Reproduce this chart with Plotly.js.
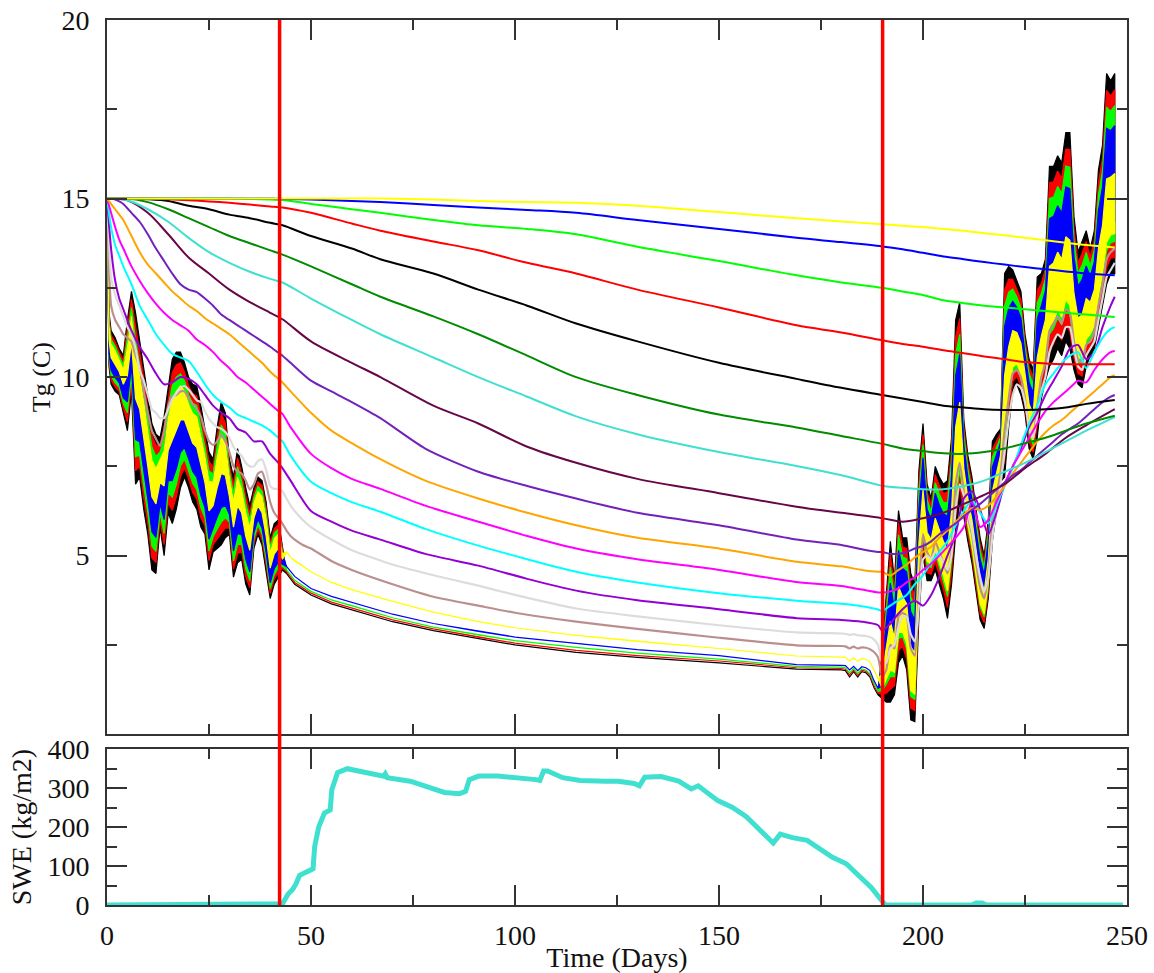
<!DOCTYPE html>
<html><head><meta charset="utf-8">
<script src="https://cdn.plot.ly/plotly-3.0.1.min.js"></script>
<style>html,body{margin:0;padding:0;background:#fff}#chart{width:1154px;height:973px}</style>
</head><body><div id="chart"></div>
<script>
// ---------- time axes ----------
const tA = [0,0.5,1,2,3,4,5,6,7,8,9,10,11,12,13,14,15,16,17,18,19,20,21,22,23,24,25,26,27,28,29,30,31,32,33,34,35,36,37,38,39,40,41,42,43];
const tSnow = [44,45,46,48,50,55,60,70,80,91,100,115,130,150,169,180,181,182,183,184,185,186,187,188,189];
const tB = [190,191,192,193,194,195,196,197,198,199,200,201,202,203,204,205,206,207,208,209,210,211,212,213,214,215,216,217,218,219,220,221,222,223,224,225,226,227,228,229,230,231,232,233,234,235,236,237,238,239,240,241,242,243,244,245,246,247];

// ---------- shallow layers (daily max / min envelopes) ----------
const blackHiA = [15,11.8,11.3,11.1,10.8,10.6,11.6,12.4,11.8,11.0,10.3,9.4,8.7,8.4,8.3,8.9,9.7,10.5,10.7,10.7,10.4,10.0,9.8,9.75,9.2,8.5,7.9,7.7,8.6,9.3,9.0,7.7,7.2,8.0,7.5,6.9,6.4,6.9,7.2,7.1,6.5,5.5,5.9,6.0,5.2];
const blackLoA = [15,10.3,9.8,9.6,9.5,9.0,8.5,9.6,7.0,7.2,6.3,5.6,4.6,4.5,5.8,5.0,6.2,5.9,6.3,6.9,7.2,6.9,6.5,6.3,5.8,5.6,4.6,5.1,5.2,5.3,5.5,5.6,4.4,4.8,4.9,4.2,3.9,5.2,5.6,5.3,4.6,3.8,4.2,4.4,4.6];
const blackSnow = [4.5,4.35,4.2,4.05,3.9,3.65,3.48,3.15,2.9,2.68,2.5,2.29,2.15,2.0,1.82,1.8,1.78,1.6,1.75,1.6,1.75,1.72,1.6,1.3,1.1];
const blackHiB = [2.4,4.0,5.4,4.3,6.26,5.5,5.5,4.5,4.2,7.4,8.7,7.0,6.6,7.5,7.2,7.0,7.1,8.3,11.6,12.1,8.8,7.8,7.2,6.3,5.5,5.0,6.0,8.2,8.4,8.55,12.9,13.1,13.0,12.7,12.4,11.2,10.5,10.2,12.8,12.9,13.3,15.9,15.9,16.2,16.0,16.85,16.85,14.5,13.5,13.8,14.1,13.6,14.1,15.8,16.5,18.5,18.3,18.5];
const blackLoB = [1.0,0.9,0.9,1.1,2.0,2.2,1.8,0.4,0.35,3.3,5.0,4.3,4.3,4.6,4.2,3.8,3.24,4.2,5.6,6.5,6.1,5.4,4.8,4.0,3.2,2.96,3.8,5.4,6.3,7.07,7.2,8.6,9.6,9.8,9.5,9.0,8.0,7.7,8.3,9.4,9.9,10.3,10.5,10.8,10.6,11.0,10.8,10.2,9.8,9.7,10.3,10.6,10.8,11.4,12.0,12.6,12.9,12.9];

const redHiA = [15,11.68,11.18,10.98,10.7,10.47,11.35,12.18,11.42,10.7,9.98,9.1,8.37,8.09,8.1,8.59,9.42,10.13,10.35,10.4,10.14,9.75,9.54,9.47,8.93,8.27,7.64,7.49,8.33,8.98,8.72,7.53,6.98,7.74,7.29,6.68,6.2,6.76,7.07,6.96,6.35,5.36,5.76,5.87,5.15];
const redLoA = [15,10.42,9.92,9.72,9.6,9.13,8.75,9.82,7.38,7.5,6.62,5.9,4.93,4.81,6.0,5.31,6.48,6.27,6.65,7.2,7.46,7.15,6.76,6.58,6.07,5.83,4.86,5.31,5.47,5.62,5.78,5.77,4.62,5.06,5.11,4.42,4.1,5.34,5.73,5.44,4.75,3.94,4.34,4.53,4.65];
const redSnow = [4.55,4.4,4.25,4.1,3.95,3.7,3.53,3.2,2.95,2.72,2.55,2.35,2.2,2.05,1.86,1.84,1.82,1.66,1.8,1.65,1.79,1.76,1.65,1.35,1.15];
const redHiB = [2.29,3.75,5.04,4.04,5.92,5.24,5.2,4.17,3.89,7.07,8.4,6.78,6.42,7.27,6.96,6.74,6.79,7.97,11.12,11.65,8.58,7.61,7.01,6.12,5.32,4.84,5.82,7.98,8.23,8.43,12.44,12.74,12.73,12.47,12.17,11.02,10.3,10.0,12.44,12.62,13.03,15.45,15.47,15.77,15.57,16.38,16.37,14.16,13.2,13.47,13.8,13.36,13.84,15.45,16.14,18.03,17.87,18.05];
const redLoB = [1.11,1.15,1.26,1.36,2.34,2.46,2.1,0.73,0.66,3.63,5.3,4.52,4.48,4.83,4.44,4.06,3.55,4.53,6.08,6.95,6.32,5.59,4.99,4.18,3.38,3.12,3.98,5.62,6.47,7.19,7.66,8.96,9.87,10.03,9.73,9.18,8.2,7.9,8.66,9.68,10.17,10.75,10.93,11.23,11.03,11.47,11.28,10.54,10.1,10.03,10.6,10.84,11.06,11.75,12.36,13.07,13.33,13.35];

const greenHiA = [15,11.56,11.06,10.86,10.59,10.34,11.1,11.95,11.03,10.39,9.66,8.79,8.04,7.78,7.9,8.28,9.14,9.76,10.0,10.09,9.89,9.5,9.27,9.2,8.66,8.04,7.37,7.28,8.06,8.66,8.44,7.36,6.75,7.49,7.08,6.47,6.0,6.63,6.94,6.81,6.2,5.23,5.63,5.74,5.1];
const greenLoA = [15,10.54,10.04,9.84,9.71,9.26,9.0,10.05,7.77,7.81,6.94,6.21,5.26,5.12,6.2,5.62,6.76,6.64,7.0,7.51,7.71,7.4,7.03,6.85,6.34,6.06,5.13,5.52,5.74,5.94,6.06,5.94,4.85,5.31,5.32,4.63,4.3,5.47,5.86,5.59,4.9,4.07,4.47,4.66,4.7];
const greenSnow = [4.6,4.46,4.31,4.16,4.0,3.76,3.6,3.26,3.0,2.78,2.62,2.43,2.27,2.1,1.9,1.88,1.86,1.72,1.84,1.7,1.83,1.8,1.7,1.42,1.2];
const greenHiB = [2.18,3.5,4.68,3.79,5.58,4.97,4.91,3.84,3.58,6.74,8.11,6.57,6.23,7.04,6.72,6.49,6.48,7.64,10.64,11.2,8.37,7.42,6.82,5.93,5.13,4.67,5.65,7.75,8.06,8.31,11.99,12.38,12.46,12.24,11.94,10.85,10.1,9.8,12.08,12.34,12.76,15.0,15.04,15.34,15.14,15.91,15.88,13.81,12.91,13.14,13.49,13.12,13.57,15.1,15.78,17.56,17.44,17.6];
const greenLoB = [1.22,1.4,1.62,1.61,2.68,2.73,2.39,1.06,0.97,3.96,5.59,4.73,4.67,5.06,4.68,4.31,3.86,4.86,6.56,7.4,6.53,5.78,5.18,4.37,3.57,3.29,4.15,5.85,6.64,7.31,8.11,9.32,10.14,10.26,9.96,9.35,8.4,8.1,9.02,9.96,10.44,11.2,11.36,11.66,11.46,11.94,11.77,10.89,10.39,10.36,10.91,11.08,11.33,12.1,12.72,13.54,13.76,13.8];

const blueHiA = [15,11.41,10.91,10.71,10.46,10.18,10.79,11.67,10.55,10.01,9.26,8.41,7.63,7.39,7.65,7.89,8.79,9.3,9.56,9.71,9.57,9.19,8.94,8.85,8.32,7.75,7.04,7.02,7.72,8.26,8.09,7.15,6.47,7.17,6.82,6.2,5.75,6.46,6.78,6.63,6.01,5.06,5.46,5.58,5.04];
const blueLoA = [15,10.69,10.19,9.99,9.84,9.42,9.31,10.33,8.25,8.19,7.34,6.59,5.67,5.51,6.45,6.01,7.11,7.1,7.44,7.89,8.03,7.71,7.36,7.2,6.68,6.35,5.46,5.78,6.08,6.34,6.41,6.15,5.13,5.63,5.58,4.9,4.55,5.64,6.02,5.77,5.09,4.24,4.64,4.82,4.76];
const blueSnow = [4.7,4.56,4.42,4.25,4.08,3.86,3.7,3.36,3.1,2.88,2.72,2.54,2.37,2.2,1.95,1.93,1.92,1.8,1.9,1.78,1.89,1.86,1.78,1.5,1.28];
const blueHiB = [2.04,3.19,4.23,3.47,5.15,4.64,4.54,3.43,3.2,6.33,7.74,6.3,6.0,6.75,6.42,6.17,6.1,7.23,10.04,10.64,8.1,7.18,6.58,5.7,4.9,4.47,5.43,7.47,7.85,8.17,11.42,11.93,12.12,11.95,11.65,10.63,9.85,9.55,11.63,11.99,12.42,14.44,14.5,14.8,14.6,15.33,15.28,13.38,12.54,12.73,13.11,12.82,13.24,14.66,15.33,16.97,16.9,17.04];
const blueLoB = [1.36,1.71,2.07,1.93,3.11,3.06,2.76,1.47,1.35,4.37,5.96,5.0,4.9,5.35,4.98,4.63,4.24,5.27,7.16,7.96,6.8,6.02,5.42,4.6,3.8,3.49,4.37,6.13,6.85,7.45,8.68,9.77,10.48,10.55,10.25,9.57,8.65,8.35,9.47,10.31,10.78,11.76,11.9,12.2,12.0,12.52,12.37,11.32,10.76,10.77,11.29,11.38,11.66,12.54,13.17,14.13,14.3,14.36];

const yellowHiA = [15,11.43,10.93,10.73,10.48,10.2,10.83,11.7,10.6,10.05,9.3,8.45,7.68,7.43,7.68,7.93,8.83,9.35,9.6,9.75,9.6,9.23,8.98,8.89,8.35,7.78,7.08,7.05,7.75,8.3,8.13,7.18,6.5,7.2,6.85,6.23,5.78,6.48,6.8,6.65,6.03,5.08,5.48,5.6,5.05];
const yellowLoA = [15,11.05,10.55,10.35,10.15,9.8,10.05,11.0,9.4,9.1,8.3,7.5,6.65,6.45,7.05,6.95,7.95,8.2,8.5,8.8,8.8,8.45,8.15,8.03,7.5,7.05,6.25,6.4,6.9,7.3,7.25,6.65,5.8,6.4,6.2,5.55,5.15,6.05,6.4,6.2,5.55,4.65,5.05,5.2,4.9];
const yellowSnow = [5.1,4.95,4.85,4.7,4.55,4.25,4.05,3.72,3.42,3.15,2.98,2.77,2.6,2.4,2.19,2.16,2.15,2.05,2.14,2.04,2.12,2.1,2.02,1.8,1.55];
const yellowHiB = [1.7,2.45,3.15,2.7,4.13,3.85,3.65,2.45,2.28,5.35,6.85,5.65,5.45,6.05,5.7,5.4,5.17,6.25,8.6,9.3,7.45,6.6,6.0,5.15,4.35,3.98,4.9,6.8,7.35,7.81,10.05,10.85,11.3,11.25,10.95,10.1,9.25,8.95,10.55,11.15,11.6,13.1,13.2,13.5,13.3,13.93,13.83,12.35,11.65,11.75,12.2,12.1,12.45,13.6,14.25,15.55,15.6,15.7];
const yellowLoB = [1.28,1.52,1.8,1.74,2.85,2.86,2.54,1.22,1.12,4.12,5.74,4.84,4.76,5.18,4.8,4.44,4.01,5.02,6.8,7.62,6.64,5.88,5.28,4.46,3.66,3.37,4.24,5.96,6.72,7.37,8.34,9.5,10.28,10.38,10.08,9.44,8.5,8.2,9.2,10.1,10.58,11.42,11.58,11.88,11.68,12.17,12.01,11.06,10.54,10.52,11.06,11.2,11.46,12.28,12.9,13.78,13.98,14.02];

const brownA = [15,13.0,12.0,11.6,11.4,11.2,11.1,11.0,10.6,10.3,9.6,9.0,8.5,8.27,8.07,8.5,9.2,9.47,9.5,9.6,9.6,9.4,9.25,9.1,8.9,8.5,8.2,8.1,8.2,8.4,8.2,7.9,7.5,7.35,7.3,7.1,6.85,7.0,7.3,7.35,7.0,6.5,6.2,6.05,5.9];
const brownSnow = [5.7,5.55,5.45,5.3,5.2,4.85,4.6,4.2,3.85,3.6,3.4,3.15,2.95,2.7,2.49,2.47,2.46,2.4,2.45,2.4,2.43,2.42,2.38,2.3,2.15];
const brownB = [1.6,1.8,2.5,2.4,3.3,3.4,3.3,2.4,2.2,4.0,5.6,5.1,4.9,5.4,5.1,4.8,4.5,5.2,7.0,7.6,6.8,6.1,5.6,4.8,4.1,3.8,4.5,6.0,6.7,7.3,8.5,9.4,10.1,10.2,10.0,9.4,8.6,8.3,9.2,10.0,10.4,11.3,11.5,11.7,11.5,11.9,11.8,11.0,10.5,10.4,10.9,11.0,11.3,12.0,12.6,13.3,13.5,13.6];
const greyA = [15,13.8,12.8,12.3,12.0,11.7,11.4,11.2,10.8,10.2,9.9,9.5,9.1,9.0,8.85,8.85,9.1,9.38,9.55,9.7,9.75,9.65,9.5,9.35,9.3,9.05,8.83,8.7,8.6,8.55,8.46,8.3,8.05,7.9,7.8,7.6,7.5,7.5,7.65,7.7,7.4,6.95,6.87,6.87,6.8];
const greySnow = [6.6,6.4,6.25,6.0,5.8,5.45,5.15,4.75,4.45,4.16,3.9,3.52,3.3,3.05,2.85,2.82,2.81,2.78,2.8,2.77,2.76,2.75,2.72,2.65,2.5];
const greyB = [2.0,2.0,2.4,2.5,3.0,3.3,3.3,2.8,2.6,3.6,4.9,5.0,4.9,5.1,5.0,4.8,4.6,5.0,6.3,7.0,6.7,6.2,5.7,5.0,4.4,4.0,4.4,5.5,6.3,7.0,7.9,8.8,9.5,9.8,9.7,9.3,8.6,8.3,8.9,9.6,10.0,10.7,11.0,11.2,11.1,11.4,11.4,10.8,10.3,10.2,10.6,10.8,11.0,11.6,12.2,12.8,13.0,13.2];

// ---------- middle layers ----------
const tM = [0,1,2,3,4,6,8,10,12,14,16,18,20,22,24,26,28,30,32,34,36,38,40,42,43,45,50,55,60,67,78,91,103,115,130,150,169,180,185,189,190,192,194,196,198,200,202,204,206,208,210,212,214,216,218,220,222,224,226,228,230,232,234,236,238,240,242,244,246,247];
const violet = [15,13.6,12.7,12.2,11.9,11.3,10.85,10.5,10.1,9.8,9.85,10.0,9.95,9.8,9.5,9.2,9.0,8.85,8.55,8.45,8.2,8.2,7.85,7.6,7.45,7.1,6.25,5.95,5.7,5.45,5.05,4.72,4.35,4.02,3.75,3.5,3.25,3.2,3.15,3.05,2.9,3.1,3.38,3.6,3.74,3.6,3.9,4.4,5.0,5.6,6.6,6.8,6.28,5.6,6.2,7.0,7.5,8.0,8.6,9.0,9.5,9.9,10.3,10.8,10.9,10.5,10.7,11.4,12.0,12.25];
const cyan = [15,14.2,13.7,13.4,13.1,12.6,12.0,11.6,11.2,10.9,10.65,10.55,10.45,10.15,9.8,9.5,9.3,9.15,8.95,8.85,8.75,8.65,8.5,8.3,8.2,7.8,7.07,6.75,6.5,6.23,5.75,5.28,4.9,4.55,4.25,3.95,3.74,3.65,3.58,3.49,3.45,3.6,3.75,3.9,4.2,4.45,4.8,5.1,5.4,5.85,6.25,6.56,6.2,5.9,6.4,6.95,7.45,8.1,8.7,9.2,9.8,10.1,10.4,10.6,10.7,10.25,10.7,11.1,11.35,11.4];
const magenta = [15,14.6,14.2,13.85,13.6,13.1,12.7,12.35,12.05,11.8,11.6,11.45,11.3,11.05,10.9,10.7,10.45,10.25,10.0,9.85,9.65,9.45,9.25,9.05,8.97,8.6,7.85,7.45,7.15,6.87,6.4,5.95,5.55,5.2,4.9,4.6,4.26,4.15,4.05,3.97,3.97,4.0,4.08,4.25,4.4,4.6,4.77,5.0,5.25,5.5,5.8,6.5,5.8,6.0,6.5,7.0,7.5,7.9,8.3,8.7,9.05,9.3,9.5,9.7,9.9,9.85,10.2,10.5,10.7,10.73];
const orange = [15,14.85,14.7,14.55,14.4,13.95,13.5,13.15,12.9,12.65,12.4,12.2,12.0,11.85,11.65,11.5,11.35,11.2,11.0,10.8,10.6,10.4,10.15,9.95,9.85,9.6,9.0,8.5,8.15,7.7,7.1,6.6,6.2,5.85,5.5,5.2,4.83,4.7,4.6,4.55,4.55,4.44,4.6,4.75,4.95,5.1,5.25,5.5,5.7,5.95,6.15,6.33,6.28,6.4,6.65,6.95,7.3,7.6,7.9,8.2,8.45,8.65,8.8,9.0,9.2,9.4,9.6,9.8,10.0,10.05];
const indigo = [15,15.0,14.97,14.92,14.85,14.6,14.35,14.0,13.6,13.25,12.9,12.6,12.45,12.38,12.2,12.0,11.75,11.6,11.45,11.3,11.15,11.0,10.85,10.68,10.6,10.4,9.9,9.6,9.3,8.85,8.0,7.35,6.95,6.6,6.2,5.85,5.45,5.3,5.18,5.1,5.1,5.05,5.05,5.1,5.2,5.27,5.4,5.6,5.75,5.9,6.1,6.28,6.45,6.65,6.85,7.05,7.25,7.4,7.6,7.8,8.0,8.2,8.4,8.55,8.7,8.9,9.1,9.3,9.45,9.5];

// ---------- deep layers ----------
const tD = [0,5,10,15,20,25,30,35,40,43,50,60,67,80,91,103,115,130,150,169,180,190,195,200,205,210,215,220,225,230,235,240,247];
const maroon = [15,14.95,14.6,14.0,13.35,12.9,12.45,12.1,11.8,11.62,11.0,10.4,10.0,9.2,8.7,8.05,7.6,7.15,6.75,6.37,6.2,6.05,5.95,6.05,6.2,6.45,6.7,7.0,7.45,7.85,8.3,8.65,9.1];
const turquoise = [15,14.95,14.7,14.35,13.9,13.5,13.2,12.95,12.75,12.65,12.2,11.6,11.2,10.55,10.0,9.45,8.9,8.4,7.9,7.51,7.25,6.96,6.9,6.86,6.86,6.95,7.1,7.35,7.6,7.9,8.2,8.5,8.88];
const darkGreen = [15,15.0,14.9,14.7,14.45,14.2,13.95,13.75,13.55,13.43,13.1,12.6,12.25,11.7,11.2,10.6,10.0,9.5,8.95,8.59,8.35,8.13,8.0,7.93,7.87,7.85,7.9,8.0,8.15,8.3,8.5,8.7,8.92];
const black2 = [15,15.0,14.98,14.93,14.8,14.7,14.55,14.45,14.32,14.25,13.95,13.6,13.3,12.9,12.45,12.0,11.5,11.0,10.4,9.95,9.7,9.5,9.4,9.3,9.2,9.15,9.1,9.08,9.08,9.1,9.15,9.25,9.36];
const red2 = [15,15.0,15.0,14.98,14.95,14.92,14.88,14.83,14.78,14.75,14.6,14.3,14.1,13.8,13.55,13.2,12.9,12.45,11.95,11.45,11.25,11.03,10.93,10.85,10.75,10.67,10.58,10.5,10.42,10.38,10.36,10.36,10.36];
const green2 = [15,15,15,15,15,15,15,14.99,14.97,14.96,14.85,14.7,14.6,14.4,14.25,14.15,14.0,13.65,13.25,12.85,12.65,12.5,12.4,12.3,12.15,12.07,12.0,11.95,11.9,11.85,11.8,11.75,11.68];
const blue2 = [15,15,15,15,15,15,15,15,15,14.99,14.97,14.93,14.9,14.82,14.75,14.68,14.6,14.4,14.15,13.9,13.78,13.66,13.58,13.48,13.38,13.3,13.22,13.15,13.08,13.02,12.96,12.9,12.85];
const yellow2 = [15,15,15,15,15,15,15,15,15,15,15,15,15,14.97,14.93,14.9,14.88,14.8,14.62,14.45,14.36,14.28,14.24,14.2,14.15,14.1,14.03,13.97,13.9,13.83,13.76,13.7,13.63];

// ---------- snow water equivalent ----------
const tSWE = [0,42.5,43,44.4,45.5,46.3,47.2,48,49.1,50.5,50.9,51.9,53.3,54.7,55.1,56.5,58.9,63.1,67.8,68.2,68.7,74.3,79,82.7,86.4,87.9,88.8,91.1,95.8,100.5,105.1,106.1,107,108,111.7,116,120.8,122.2,125.3,129.2,130.5,131.8,135.8,140.1,143.2,144.9,149.7,153.2,156.7,161.1,163.3,165,168,171.6,174.2,177.7,181.2,184.7,187.3,190,190.8,212,213,214.5,215.5,249];
const swe = [0,0,3,28,40,54,76,80,85,93,150,201,236,244,296,340,350,340,331,337,327,318,301,289,286,292,322,331,331,328,322,320,344,344,327,320,316,318,318,312,306,328,330,318,298,306,268,251,227,179,159,182,173,166,147,123,106,71,45,10,0,0,5,5,0,0];

// ---------- event markers (days) ----------
const markerDays = [42.3, 190.1];

// ---------- build traces ----------
const tBand = tA.concat(tSnow, tB);
const tBandRev = tBand.slice().reverse();
function band(hiA, loA, snow, hiB, loB, color) {
  const hi = hiA.concat(snow, hiB);
  const lo = loA.concat(snow, loB);
  return {x: tBand.concat(tBandRev), y: hi.concat(lo.slice().reverse()), mode: 'lines', fill: 'toself',
    fillcolor: color, line: {color: color, width: 1.2}, xaxis: 'x', yaxis: 'y', hoverinfo: 'skip'};
}
function line(x, y, color, w, smooth) {
  return {x: x, y: y, mode: 'lines', line: {color: color, width: w, shape: 'spline', smoothing: smooth},
    xaxis: 'x', yaxis: 'y', hoverinfo: 'skip'};
}
const traces = [
  band(blackHiA, blackLoA, blackSnow, blackHiB, blackLoB, '#000000'),
  band(redHiA, redLoA, redSnow, redHiB, redLoB, '#ff0000'),
  band(greenHiA, greenLoA, greenSnow, greenHiB, greenLoB, '#00ff00'),
  band(blueHiA, blueLoA, blueSnow, blueHiB, blueLoB, '#0000ff'),
  band(yellowHiA, yellowLoA, yellowSnow, yellowHiB, yellowLoB, '#ffff00'),
  line(tBand, brownA.concat(brownSnow, brownB), '#bc8f8f', 2.2, 0.5),
  line(tBand, greyA.concat(greySnow, greyB), '#dcdcdc', 2.2, 0.5),
  line(tM, violet, '#9400d3', 2, 0.7),
  line(tM, cyan, '#00ffff', 2, 0.7),
  line(tM, magenta, '#ff00ff', 2, 0.7),
  line(tM, orange, '#ffa500', 2, 0.7),
  line(tM, indigo, '#7221bc', 2, 0.7),
  line(tD, maroon, '#670748', 2, 0.9),
  line(tD, turquoise, '#40e0d0', 2, 0.9),
  line(tD, darkGreen, '#008b00', 2, 0.9),
  line(tD, black2, '#000000', 2, 0.9),
  line(tD, red2, '#ff0000', 2, 0.9),
  line(tD, green2, '#00ff00', 2, 0.9),
  line(tD, blue2, '#0000ff', 2, 0.9),
  line(tD, yellow2, '#ffff00', 2, 0.9),
  {x: tSWE, y: swe, mode: 'lines', line: {color: '#40e0d0', width: 5}, xaxis: 'x2', yaxis: 'y2', hoverinfo: 'skip'}
];

const axisCol = '#333333';
const common = {showline: true, linewidth: 2, linecolor: axisCol, mirror: 'allticks', ticks: 'inside',
  ticklen: 20, tickwidth: 2, tickcolor: axisCol, showgrid: false, zeroline: false, fixedrange: true};
const fontFam = '"Liberation Serif", "Times New Roman", Times, serif';

const layout = {
  width: 1154, height: 973,
  margin: {l: 107, r: 27, t: 20, b: 68},
  paper_bgcolor: '#ffffff', plot_bgcolor: '#ffffff',
  showlegend: false,
  font: {family: fontFam, size: 28, color: '#111111'},
  xaxis: Object.assign({}, common, {domain: [0, 1], range: [0, 250], anchor: 'y', showticklabels: false,
    tickmode: 'linear', tick0: 0, dtick: 50,
    minor: {ticks: 'inside', ticklen: 10, tickwidth: 2, tickcolor: axisCol, dtick: 25, tick0: 0}}),
  yaxis: Object.assign({}, common, {domain: [0.193, 1], range: [0, 20], anchor: 'x',
    tickmode: 'array', tickvals: [5, 10, 15, 20], ticktext: ['5', '10', '15', '20'], ticklabelstandoff: 10,
    minor: {ticks: 'inside', ticklen: 10, tickwidth: 2, tickcolor: axisCol, tickmode: 'array', tickvals: [2.5, 7.5, 12.5, 17.5]},
    title: {text: 'Tg (C)', font: {size: 26}, standoff: 3}}),
  xaxis2: Object.assign({}, common, {domain: [0, 1], range: [0, 250], anchor: 'y2',
    tickmode: 'linear', tick0: 0, dtick: 50, ticklabelstandoff: 4,
    minor: {ticks: 'inside', ticklen: 10, tickwidth: 2, tickcolor: axisCol, dtick: 25, tick0: 0},
    title: {text: 'Time (Days)', font: {size: 28}, standoff: 4}}),
  yaxis2: Object.assign({}, common, {domain: [0, 0.176], range: [0, 400], anchor: 'x2',
    tickmode: 'linear', tick0: 0, dtick: 100, ticklabelstandoff: 10,
    minor: {ticks: 'inside', ticklen: 10, tickwidth: 2, tickcolor: axisCol, dtick: 50, tick0: 0},
    title: {text: 'SWE (kg/m2)', font: {size: 28}, standoff: 8}}),
  shapes: markerDays.map(function (d) {
    return {type: 'line', xref: 'x', yref: 'paper', x0: d, x1: d, y0: 0, y1: 1,
      line: {color: '#ff0000', width: 3.5}, layer: 'above'};
  })
};

Plotly.newPlot('chart', traces, layout, {staticPlot: true, displayModeBar: false});
</script>
</body></html>
